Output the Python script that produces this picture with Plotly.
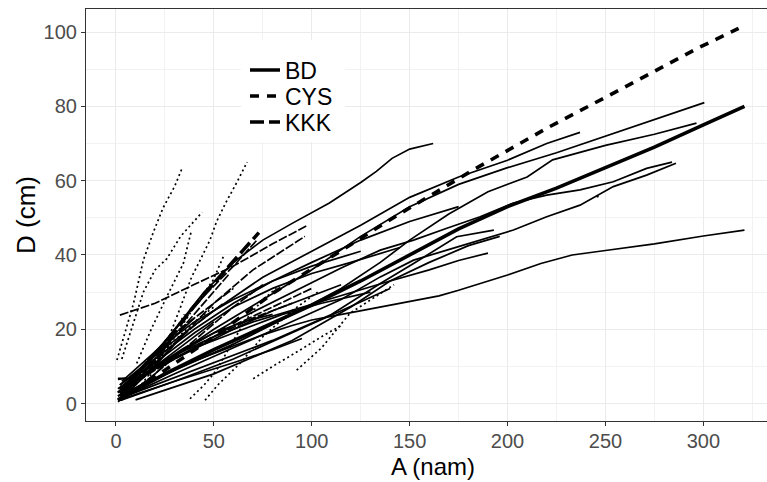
import plotly.graph_objects as go

# ---------------- data ----------------
# thin lines: individual trees, grouped by species
bd_tree_age = [
    [1, 15, 25, 40, 50, 65, 75, 90, 100, 120, 135, 150, 165, 175, 190, 200, 217, 233, 250, 275, 300, 321],
    [1, 25, 50, 75, 100, 125, 150, 175, 200, 225, 250, 275, 300.5],
    [2, 25, 50, 75, 100, 125, 150, 175, 200, 220, 237],
    [2, 15, 30, 45, 60, 75, 90, 109, 125, 133, 141, 150, 162],
    [3, 30, 60, 90, 115, 135, 150, 170, 190, 210, 223, 250, 275, 296.5],
    [2, 30, 60, 90, 115, 135, 152, 169, 186, 203, 220, 237, 254, 271, 284],
    [1, 30, 60, 90, 115, 135, 152, 169, 186, 203, 220, 237, 254, 271, 286],
    [5, 40, 80, 110, 135, 152, 174, 193],
    [10, 50, 90, 120, 140, 160, 180, 196],
    [3, 30, 60, 80, 95],
    [2, 30, 60, 90, 115, 140],
    [245.5, 246.5],
    [1, 20, 40, 60, 80, 100, 120, 145],
    [2, 20, 40, 60, 80, 100, 125, 150, 175],
    [1, 15, 30, 50, 70, 95, 120, 140, 160, 175, 190],
    [3, 20, 40, 60, 80, 100, 125],
    [2, 10, 20, 35, 50, 65, 80],
    [1, 12, 25, 40, 55, 70, 85, 105, 130],
    [2, 15, 30, 45, 60, 80, 100, 115],
    [1, 10, 20, 30, 40, 50],
    [2, 10, 20, 30, 40],
    [1, 8, 16, 25, 35],
    [3, 12, 22, 32],
    [1, 5, 10, 18, 26],
    [1, 6, 10],
]
bd_tree_dbh = [
    [2, 5.5, 8, 11.5, 13.5, 16.5, 18.5, 21, 22.5, 24.5, 26, 27.4, 29, 30.5, 33, 34.6, 37.7, 40, 41.2, 43, 45.1, 46.7],
    [3, 11, 20, 28, 36, 45, 53, 59, 63.5, 67.5, 72, 76.5, 81],
    [5, 15, 25, 34, 41, 48, 55.5, 61, 65.5, 70, 73],
    [3, 10, 20, 30, 38, 44, 48.5, 54, 59.5, 62.5, 66, 68.5, 70],
    [2, 9, 16, 24, 31, 38, 44, 51, 57, 61, 65.6, 69.5, 72.5, 75.5],
    [4, 13, 22, 30, 36.5, 41.3, 44, 47.2, 50.3, 54, 56.1, 57.5, 59.7, 63.3, 65],
    [1, 8, 15, 22, 28, 34.1, 38.6, 41.3, 44, 46.7, 50.3, 53.4, 58.4, 61.5, 64.7],
    [2, 9, 17, 24, 32.3, 37.7, 44.9, 46.7],
    [1, 8, 17, 26, 33, 38, 42.5, 45],
    [1, 6, 11, 14.5, 17.5],
    [1, 6, 12, 19, 25, 31],
    [55.6, 55.8],
    [4, 11, 19, 26, 31, 35, 38, 42],
    [5, 12, 20, 27, 33, 38, 44, 49, 53],
    [3, 8, 13, 18, 22, 26, 30, 33, 36, 38.5, 40.5],
    [6, 14, 22, 28, 33, 37, 41],
    [2, 6, 10, 15, 19, 22, 24],
    [3, 7, 11, 15, 18, 21, 24, 27, 30],
    [4, 8, 12, 16, 20, 25, 29, 32],
    [2, 6, 10, 14, 18, 22],
    [4, 8, 13, 18, 23],
    [1, 4, 8, 13, 19],
    [3, 9, 15, 21],
    [0.5, 2, 4, 7, 11],
    [6.8, 6.8, 7.2],
]
cys_tree_age = [
    [0.5, 5, 9, 14, 19, 24, 30, 33.5],
    [3, 8, 14, 20, 26, 33, 40, 44],
    [15, 25, 33, 38.6, 43, 48, 51.4, 56, 61, 67],
    [10, 20, 30, 40, 49.6, 54.8],
    [37.8, 45, 51.4, 60, 67, 75, 82],
    [45.5, 52, 63.3, 75, 90, 103],
    [70.1, 80, 94, 105, 115],
    [92.3, 105, 119.5, 130, 142],
    [10.6, 18, 25.9, 34.4, 38.6],
    [5, 15, 25, 35],
    [2, 10, 20, 30, 40, 50],
]
cys_tree_dbh = [
    [11.7, 20, 27, 38.6, 46, 52.6, 58.5, 63],
    [12, 20, 30, 36, 39, 45, 49, 51.5],
    [5, 15, 26, 34, 38.6, 44, 49, 54, 58.8, 65],
    [3, 10, 18, 26, 33.2, 39.5],
    [1.3, 5, 9, 17, 23, 28, 31],
    [0.9, 5, 10.8, 18, 25, 30],
    [6.7, 10, 14.4, 18, 21],
    [9, 15, 24.3, 28, 32],
    [10.8, 20, 28.7, 37.7, 46.7],
    [2, 8, 15, 24],
    [1, 6, 12, 17, 22, 26],
]
kkk_tree_age = [
    [2, 20, 41, 60, 80, 98],
    [8, 30, 50, 70, 96.5],
    [2, 15, 30, 45, 60, 72],
    [3, 20, 40, 60, 75],
    [1, 8, 15, 30, 50, 70, 90],
    [2, 20, 40, 60, 80, 100],
    [1, 10, 20, 30, 45, 60],
    [2, 12, 25, 40, 55],
    [2, 15, 30, 45, 58],
    [3, 18, 33, 50],
]
kkk_tree_dbh = [
    [23.8, 27, 32.3, 37, 43, 48],
    [4, 16, 27, 36, 45],
    [2, 10, 20, 29, 37, 44],
    [1, 8, 17, 26, 32],
    [6.5, 7, 9, 13, 18, 23, 27],
    [3, 9, 15, 21, 26, 31],
    [3, 8, 14, 19, 25, 31],
    [1, 7, 14, 21, 27],
    [2, 9, 18, 27, 35],
    [3, 12, 22, 32],
]

# thick lines: species mean curves
bd_age = [1, 25, 50, 75, 100, 125, 150, 175, 200, 225, 250, 275, 300, 321]
bd_dbh = [1, 8, 14.5, 20.5, 26.5, 33, 40, 47, 53, 58, 63.5, 69, 75, 80]
cys_age = [2, 25, 50, 81, 113, 142.5, 182.5, 220.7, 260, 297.3, 318]
cys_dbh = [1, 9, 18, 30, 40.5, 50.3, 62.9, 74.3, 85.2, 95.7, 101]
kkk_age = [2, 20, 38, 46, 65, 73]
kkk_dbh = [1, 12, 25, 30, 41.3, 46]

species = ["BD", "CYS", "KKK"]
x_ticks = [0, 50, 100, 150, 200, 250, 300]
y_ticks = [0, 20, 40, 60, 80, 100]

# ---------------- styles ----------------
thin_dash = {"BD": "solid", "CYS": "2px,3px", "KKK": "9px,2px"}
thick_dash = {"BD": "solid", "CYS": "9px,8px", "KKK": "14px,5px"}
THIN_W = 1.7
THICK_W = 3.6
FONT = "Liberation Sans, Arial, sans-serif"

W, H = 767, 482
L, R, T, B = 86, 0, 9, 61
plot_w = W - L - R
plot_h = H - T - B

fig = go.Figure()

for sp, ages, dbhs in [("BD", bd_tree_age, bd_tree_dbh),
                       ("CYS", cys_tree_age, cys_tree_dbh),
                       ("KKK", kkk_tree_age, kkk_tree_dbh)]:
    for xa, ya in zip(ages, dbhs):
        fig.add_trace(go.Scatter(
            x=xa, y=ya, mode="lines", showlegend=False, hoverinfo="skip",
            line=dict(color="black", width=THIN_W, dash=thin_dash[sp])))

legend_ids = {"BD": "legend", "CYS": "legend2", "KKK": "legend3"}
for sp, xa, ya in [("BD", bd_age, bd_dbh), ("CYS", cys_age, cys_dbh),
                   ("KKK", kkk_age, kkk_dbh)]:
    fig.add_trace(go.Scatter(
        x=xa, y=ya, mode="lines", name=sp, showlegend=True,
        legend=legend_ids[sp],
        line=dict(color="black", width=THICK_W, dash=thick_dash[sp])))

axis_common = dict(
    showgrid=True, gridcolor="#EBEBEB", gridwidth=1.1,
    zeroline=False, showline=True, linecolor="#333333", linewidth=1.1,
    ticks="outside", ticklen=4, tickcolor="#333333", tickwidth=1.1,
    tickfont=dict(family=FONT, size=20, color="#4D4D4D"),
)


def legend_box(center_px):
    return dict(x=(245 - L) / plot_w, y=1 - (center_px - T) / plot_h,
                xanchor="left", yanchor="middle", bgcolor="rgba(0,0,0,0)",
                font=dict(family=FONT, size=23, color="black"), itemwidth=30)


fig.update_layout(
    width=W, height=H,
    margin=dict(l=L, r=R, t=T, b=B),
    paper_bgcolor="white", plot_bgcolor="white",
    font=dict(family=FONT, color="black"),
    xaxis=dict(range=[-15.3, 332.5], tickvals=x_ticks, mirror=True,
               ticklabelstandoff=-2,
               minor=dict(tickvals=[25, 75, 125, 175, 225, 275, 325],
                          showgrid=True, gridcolor="#F2F2F2", gridwidth=0.6, ticks=""),
               **axis_common),
    yaxis=dict(range=[-4.69, 106.2], tickvals=y_ticks,
               minor=dict(tickvals=[10, 30, 50, 70, 90],
                          showgrid=True, gridcolor="#F2F2F2", gridwidth=0.6, ticks=""),
               **axis_common),
    showlegend=True,
    legend=legend_box(70),
    legend2=legend_box(96),
    legend3=legend_box(122),
    shapes=[
        # white legend background (ggplot legend.background)
        dict(type="rect", xref="paper", yref="paper", layer="above",
             x0=(241 - L) / plot_w, x1=(345 - L) / plot_w,
             y0=1 - (142 - T) / plot_h, y1=1 - (40 - T) / plot_h,
             fillcolor="white", line=dict(width=0)),
    ],
    annotations=[
        dict(text="A (nam)", xref="paper", yref="paper",
             x=(433 - L) / plot_w, y=-(466 - (H - B)) / plot_h,
             xanchor="center", yanchor="middle", showarrow=False,
             font=dict(family=FONT, size=24, color="black")),
        dict(text="D (cm)", xref="paper", yref="paper",
             x=-(L - 26) / plot_w, y=0.5, textangle=-90,
             xanchor="center", yanchor="middle", showarrow=False,
             font=dict(family=FONT, size=26, color="black")),
    ],
)

fig.write_html("out.html")
